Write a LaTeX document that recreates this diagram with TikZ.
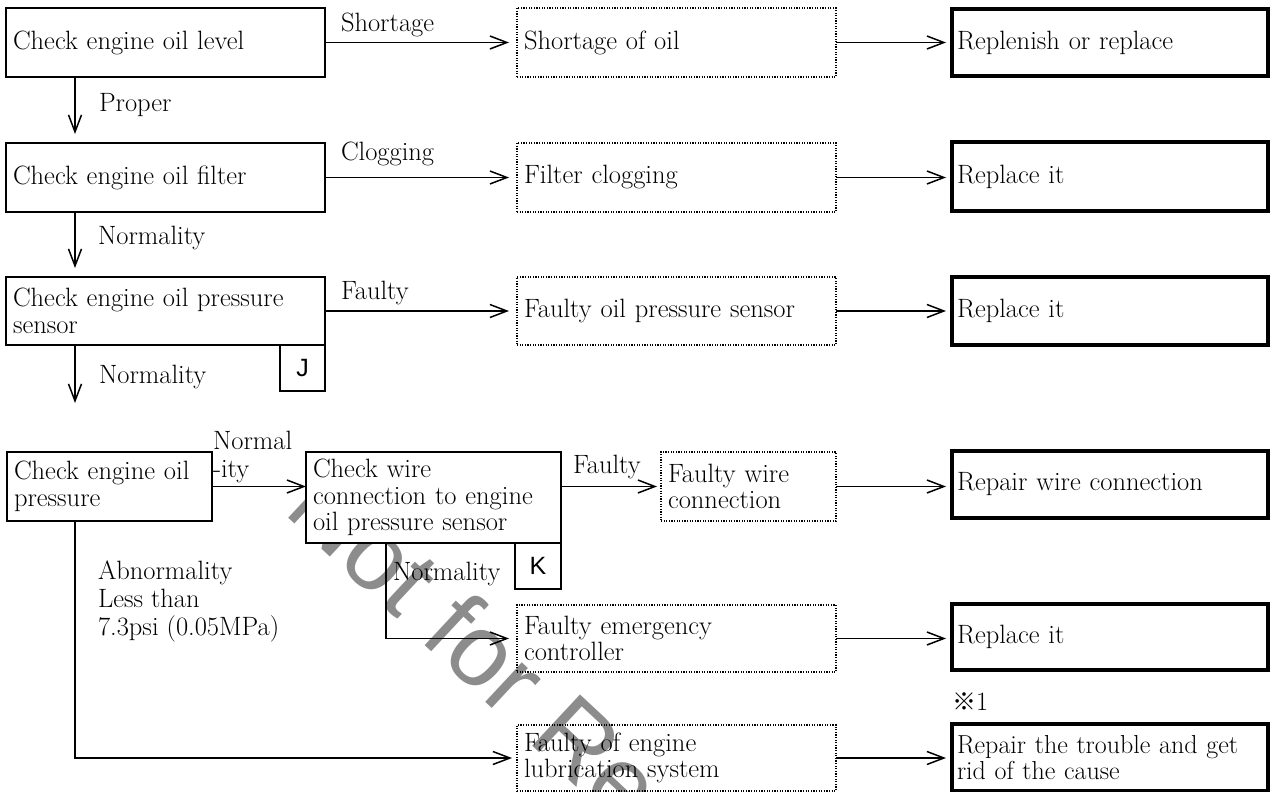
\documentclass[tikz,border=0pt]{standalone}
\usepackage{fontspec}
\newfontfamily\sansf{Liberation Sans}
\newfontfamily\cjkf{Noto Sans CJK JP}
\usetikzlibrary{arrows.meta}
\begin{document}
\begin{tikzpicture}[x=1pt,y=-1pt,
  every node/.style={inner sep=0pt, outer sep=0pt},
  basefont/.style={font=\fontsize{26.5}{26.5}\selectfont},
  chkbox/.style={basefont, draw, line width=1.6pt, fill=white, anchor=north west, align=left, inner xsep=7pt},
  faultbox/.style={basefont, draw, line width=1.2pt, dash pattern=on 1.2pt off 1.4pt, anchor=north west, align=left, inner xsep=7pt},
  fixbox/.style={basefont, draw, line width=4.5pt, fill=white, anchor=north west, align=left, inner xsep=5pt, text width=306pt},
  refbox/.style={draw, line width=1.6pt, fill=white, anchor=north west, font=\sansf\fontsize{25}{25}\selectfont, minimum width=45pt, minimum height=46pt},
  lbl/.style={font=\fontsize{26.5}{28}\selectfont, anchor=west, align=left},
  conn/.style={line width=1.5pt, -{Straight Barb[length=17pt,width=13pt]}}
]
\fill[white] (0,0) rectangle (1272,792);
\useasboundingbox (0,0) rectangle (1272,792);
\clip (0,0) rectangle (1272,792);

% watermark
\node[rotate=-43, anchor=base west, font=\sansf\fontsize{102}{102}\selectfont, text=black!45] (wm) at (282,512) {Not for Reproduction};

% check boxes
\node[chkbox, text width=305pt, minimum height=69pt] (A1) at (6,8) {Check engine oil level};
\node[chkbox, text width=305pt, minimum height=69pt] (A2) at (6,143) {Check engine oil filter};
\node[chkbox, text width=305pt, minimum height=68pt] (A3) at (6,277) {Check engine oil pressure\\sensor};
\node[refbox] (J) at (280,345) {J};
\node[chkbox, text width=191pt, minimum height=69pt] (A4) at (7,452) {Check engine oil\\pressure};
\node[chkbox, text width=241pt, minimum height=91pt] (CW) at (306,452) {Check wire\\connection to engine\\oil pressure sensor};
\node[refbox, minimum width=46pt] (K) at (515,543) {K};

% fault boxes
\node[faultbox, text width=305pt, minimum height=69pt] (D1) at (517,8) {Shortage of oil};
\node[faultbox, text width=305pt, minimum height=69pt] (D2) at (517,143) {Filter clogging};
\node[faultbox, text width=305pt, minimum height=68pt] (D3) at (517,277) {Faulty oil pressure sensor};
\node[faultbox, text width=161pt, minimum height=69pt] (D4) at (661,452) {Faulty wire\\connection};
\node[faultbox, text width=305pt, minimum height=67pt] (D5) at (517,605) {Faulty emergency\\controller};
\node[faultbox, text width=305pt, minimum height=66pt] (D6) at (517,725) {Faulty of engine\\lubrication system};

% remedy boxes
\node[fixbox, minimum height=67pt] (T1) at (952,9) {Replenish or replace};
\node[fixbox, minimum height=69pt] (T2) at (952,142) {Replace it};
\node[fixbox, minimum height=68pt] (T3) at (952,277) {Replace it};
\node[fixbox, minimum height=67pt] (T4) at (952,451) {Repair wire connection};
\node[fixbox, minimum height=66pt] (T5) at (952,604) {Replace it};
\node[fixbox, minimum height=67pt, font=\fontsize{26}{26.5}\selectfont] (T6) at (952,724) {Repair the trouble and get\\rid of the cause};

% labels
\node[lbl] (lShort) at (341,25) {Shortage};
\node[lbl] (lClog) at (341,154) {Clogging};
\node[lbl] (lFaulty1) at (341,293) {Faulty};
\node[lbl] (lProper) at (99,105) {Proper};
\node[lbl] (lNorm1) at (98,238) {Normality};
\node[lbl] (lNorm2) at (99,377) {Normality};
\node[lbl] (lNorm3) at (213,457) {Normal\\-ity};
\node[lbl] (lFaulty2) at (573,467) {Faulty};
\node[lbl] (lNorm4) at (393,574) {Normality};
\node[lbl] (lAbn) at (98,601) {Abnormality\\Less than\\7.3psi (0.05MPa)};
\node[lbl] (lNote) at (952,702) {{\cjkf\fontsize{24}{24}\selectfont ※}1};

% connectors
\draw[conn, shorten >=8pt] (A1.east) -- (A1.east -| D1.west);
\draw[conn, shorten >=8pt] (A2.east) -- (A2.east -| D2.west);
\draw[conn, shorten >=8pt] (A3.east) -- (A3.east -| D3.west);
\draw[conn, shorten >=6pt] (D1.east) -- (D1.east -| T1.west);
\draw[conn, shorten >=6pt] (D2.east) -- (D2.east -| T2.west);
\draw[conn, shorten >=6pt] (D3.east) -- (D3.east -| T3.west);
\draw[conn, shorten >=9pt] ([xshift=69pt]A1.south west) -- ([xshift=69pt]A2.north west);
\draw[conn, shorten >=9pt] ([xshift=69pt]A2.south west) -- ([xshift=69pt]A3.north west);
\coordinate (A3end) at (75,403);
\draw[conn] ([xshift=69pt]A3.south west) -- (A3end);
\draw[conn] (A4.east) -- (A4.east -| CW.west);
\draw[conn, shorten >=4pt] (CW.east |- D4.west) -- (D4.west);
\draw[conn, shorten >=8pt] ([xshift=80pt]CW.south west) |- (D5.west);
\draw[conn, shorten >=5pt] ([xshift=68pt]A4.south west) |- (D6.west);
\draw[conn, shorten >=6pt] (D4.east) -- (D4.east -| T4.west);
\draw[conn, shorten >=6pt] (D5.east) -- (D5.east -| T5.west);
\draw[conn, shorten >=6pt] (D6.east) -- (D6.east -| T6.west);
\end{tikzpicture}
\end{document}
